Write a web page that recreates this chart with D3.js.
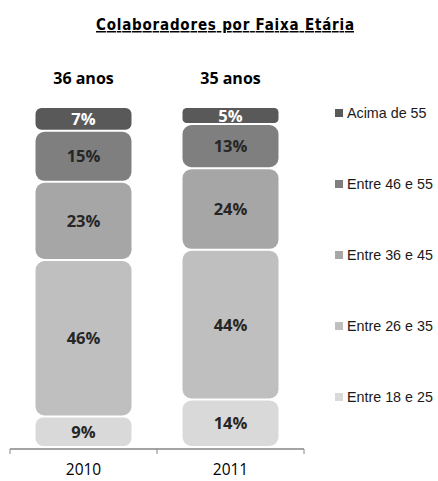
<!DOCTYPE html>
<html>
<head>
<meta charset="utf-8">
<script src="https://cdn.jsdelivr.net/npm/d3@7"></script>
<style>
  body { margin: 0; background: #fff; }
  svg { display: block; }
</style>
</head>
<body>
<svg id="chart"></svg>
<script>
const width = 438
const height = 481

const years = ["2010", "2011"]
const averageAge = ["36 anos", "35 anos"]
// bottom to top
const groups = ["Entre 18 e 25", "Entre 26 e 35", "Entre 36 e 45", "Entre 46 e 55", "Acima de 55"]
const values2010 = [9, 46, 23, 15, 7]
const values2011 = [14, 44, 24, 13, 5]
const colors = ["#d9d9d9", "#bfbfbf", "#a6a6a6", "#7f7f7f", "#595959"]

const svg = d3.select("#chart").attr("width", width).attr("height", height)

const font = "'Open Sans', sans-serif"

svg.append("text")
  .attr("x", 96)
  .attr("y", 30)
  .attr("textLength", 258)
  .attr("lengthAdjust", "spacing")
  .style("font-family", "'DejaVu Sans Condensed', 'DejaVu Sans', sans-serif")
  .style("font-size", "15px")
  .style("font-weight", "bold")
  .style("text-decoration", "underline")
  .attr("fill", "#000")
  .text("Colaboradores por Faixa Etária")

const x = d3.scaleBand()
  .domain(years)
  .range([10, 304])
  .paddingInner(0.347)
  .paddingOuter(0.1735)

const y = d3.scaleLinear().domain([0, 100]).range([447, 107])

const series = [values2010, values2011]
const stacked = series.map((vals, i) => {
  let acc = 0
  return vals.map((v, j) => {
    const seg = { year: years[i], group: j, value: v, y0: acc, y1: acc + v }
    acc += v
    return seg
  })
})

const bars = svg.append("g")

stacked.forEach(segs => {
  const g = bars.append("g")
  g.selectAll("rect")
    .data(segs)
    .join("rect")
    .attr("x", d => x(d.year))
    .attr("width", x.bandwidth())
    .attr("y", d => y(d.y1) + 1)
    .attr("height", d => y(d.y0) - y(d.y1) - 2)
    .attr("rx", d => Math.min(9, (y(d.y0) - y(d.y1)) / 4))
    .attr("fill", d => colors[d.group])

  g.selectAll("text")
    .data(segs)
    .join("text")
    .attr("x", d => x(d.year) + x.bandwidth() / 2)
    .attr("y", d => (y(d.y0) + y(d.y1)) / 2 + 6)
    .attr("text-anchor", "middle")
    .style("font-family", font)
    .style("font-size", "16.5px")
    .style("font-weight", "bold")
    .attr("fill", d => d.group === 4 ? "#fff" : "#262626")
    .text(d => d.value + "%")
})

// average age labels
svg.selectAll("text.age")
  .data(years)
  .join("text")
  .attr("class", "age")
  .attr("x", d => x(d) + x.bandwidth() / 2)
  .attr("y", 84)
  .attr("text-anchor", "middle")
  .style("font-family", font)
  .style("font-size", "16px")
  .style("font-weight", "bold")
  .attr("fill", "#000")
  .text((d, i) => averageAge[i])

// axis
const axisY = 449
const axis = svg.append("g").attr("stroke", "#868686")
axis.append("line")
  .attr("x1", 10).attr("x2", 304)
  .attr("y1", axisY).attr("y2", axisY)
  .attr("stroke-width", 1.5)
const boundaries = years.map(d => x(d) - x.step() * x.paddingInner() / 2)
boundaries.push(x.range()[1])
axis.selectAll("line.tick")
  .data(boundaries)
  .join("line")
  .attr("class", "tick")
  .attr("x1", d => d).attr("x2", d => d)
  .attr("y1", axisY).attr("y2", axisY + 5)

svg.selectAll("text.year")
  .data(years)
  .join("text")
  .attr("class", "year")
  .attr("x", d => x(d) + x.bandwidth() / 2)
  .attr("y", 475)
  .attr("text-anchor", "middle")
  .style("font-family", font)
  .style("font-size", "15.5px")
  .attr("fill", "#000")
  .text(d => d)

// legend, top entry first
const legendY = d3.scalePoint()
  .domain(groups.slice().reverse())
  .range([113, 397])

const legend = svg.append("g")
  .selectAll("g")
  .data(groups.slice().reverse())
  .join("g")
  .attr("transform", d => `translate(335, ${legendY(d)})`)

legend.append("rect")
  .attr("x", 0).attr("y", -4)
  .attr("width", 8).attr("height", 8)
  .attr("fill", d => colors[groups.indexOf(d)])

legend.append("text")
  .attr("x", 12)
  .attr("y", 5)
  .style("font-family", "'Liberation Sans', sans-serif")
  .style("font-size", "14.3px")
  .attr("fill", "#1a1a1a")
  .text(d => d)
</script>
</body>
</html>
